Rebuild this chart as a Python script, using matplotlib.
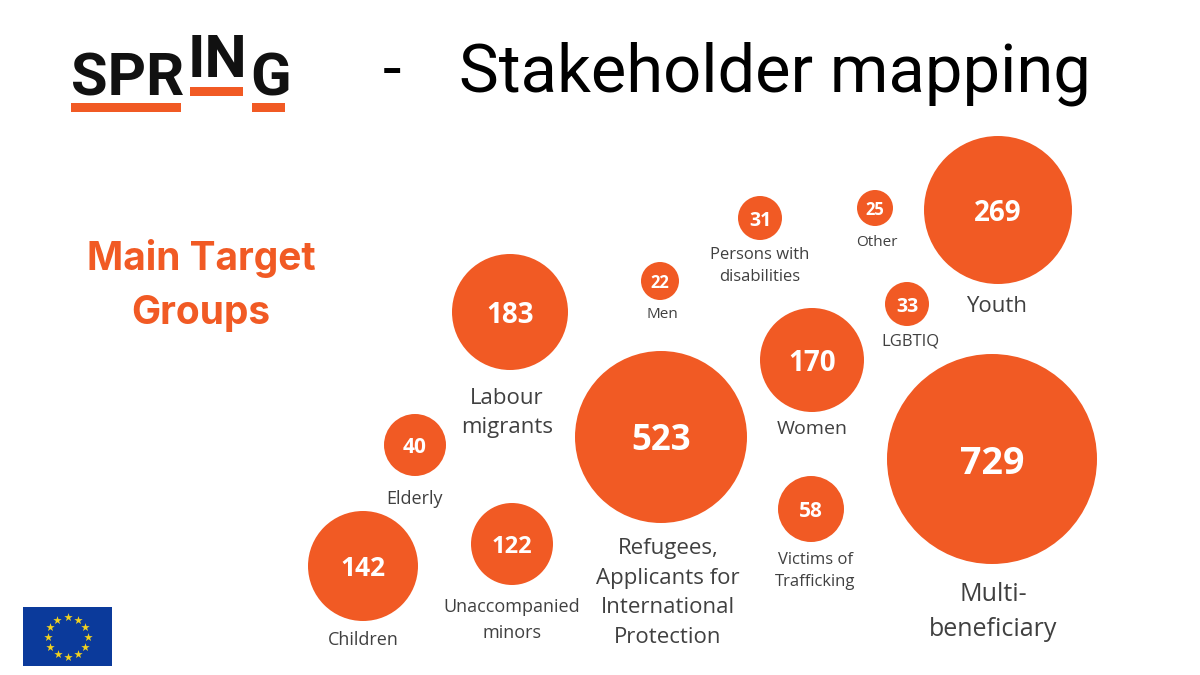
import numpy as np
import matplotlib
matplotlib.use('Agg')
import matplotlib.pyplot as plt
from matplotlib.patches import Circle, Rectangle

# Data
groups = ['Labour\nmigrants', 'Men', 'Persons with\ndisabilities', 'Other', 'Youth', 'LGBTIQ',
          'Women', 'Refugees,\nApplicants for\nInternational\nProtection', 'Multi-\nbeneficiary',
          'Elderly', 'Victims of\nTrafficking', 'Children', 'Unaccompanied\nminors']
counts = [183, 22, 31, 25, 269, 33, 170, 523, 729, 40, 58, 142, 122]

# Layout in pixels (bubble centre and radius, label centre, text sizes)
bubble_x = [510, 660, 760, 875, 998, 907, 812, 661, 992, 415, 811, 363, 512]
bubble_y = [312, 281, 218, 208, 210, 304, 360, 437, 459, 445, 509, 566, 544]
bubble_r = [58, 19, 22, 18, 74, 22, 52, 86, 105, 31, 33, 55, 41]
label_x = [507, 662, 760, 877, 997, 910, 812, 668, 993, 415, 815, 363, 512]
label_y = [413, 314, 266, 242, 306, 342, 429, 593, 612, 499, 571, 640, 620]
label_size = [16, 11, 12, 11, 16, 12, 14, 16, 18, 13, 12, 13, 13]
value_size = [20, 12, 14, 12, 20, 14, 20, 25, 27, 15, 15, 19, 17]

orange = '#F15A24'
sans = ['Open Sans', 'DejaVu Sans']
title_font = ['Roboto', 'DejaVu Sans']
heading_font = ['Inter', 'DejaVu Sans']

fig = plt.figure(figsize=(12, 6.75), dpi=100)
ax = fig.add_axes([0, 0, 1, 1])
ax.set_xlim(0, 1200)
ax.set_ylim(675, 0)
ax.axis('off')

for i in range(len(counts)):
    ax.add_patch(Circle((bubble_x[i], bubble_y[i]), bubble_r[i], color=orange, lw=0))
    ax.text(bubble_x[i], bubble_y[i], str(counts[i]), color='white', fontsize=value_size[i],
            fontweight='bold', ha='center', va='center_baseline', family=sans)
    ax.text(label_x[i], label_y[i], groups[i], color='#404040', fontsize=label_size[i],
            ha='center', va='center', linespacing=1.55, family=sans)

# Title
ax.text(383, 91, '-', fontsize=48, color='black', family=title_font)
ax.text(459, 91, 'Stakeholder mapping', fontsize=48.2, color='black', family=title_font)
ax.text(201, 259, 'Main Target', fontsize=28, color=orange, fontweight='bold',
        ha='center', va='center', family=heading_font)
ax.text(201, 314, 'Groups', fontsize=28, color=orange, fontweight='bold',
        ha='center', va='center', family=heading_font)

# SPRING logo
ax.text(71, 95, 'SPR', fontsize=43, color='#111111', fontweight='bold', family=title_font)
ax.text(188, 77, 'IN', fontsize=43, color='#111111', fontweight='bold', family=title_font)
ax.text(250, 95, 'G', fontsize=43, color='#111111', fontweight='bold', family=title_font)
ax.add_patch(Rectangle((71, 103), 110, 9, color=orange, lw=0))
ax.add_patch(Rectangle((190, 87), 53, 9, color=orange, lw=0))
ax.add_patch(Rectangle((252, 103), 33, 9, color=orange, lw=0))

# EU flag
ax.add_patch(Rectangle((23, 607), 89, 59, color='#0B3A9B', lw=0))
star_angles = np.deg2rad(np.arange(0, 360, 30))
ax.scatter(67.5 + 20 * np.cos(star_angles), 637 + 20 * np.sin(star_angles),
           marker='*', s=40, color='#F2D21F', lw=0, zorder=3)

fig.savefig('out.png', dpi=100)
